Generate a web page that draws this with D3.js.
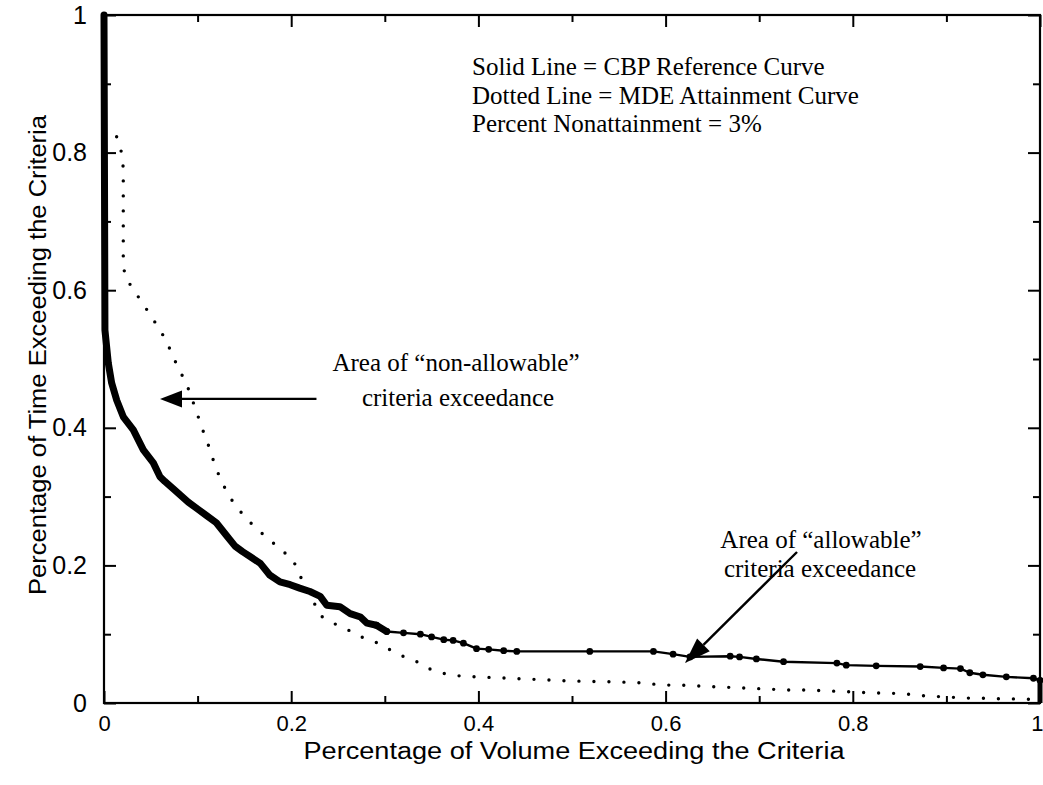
<!DOCTYPE html>
<html><head><meta charset="utf-8">
<script src="https://cdn.jsdelivr.net/npm/d3@7"></script>
<style>body{margin:0;background:#fff}</style>
</head><body>
<svg id="chart" width="1043" height="785"></svg>
<script>
// CBP reference curve (solid)
const refX = [0, 0.001, 0.0046, 0.0082, 0.0136, 0.0206, 0.0313, 0.042, 0.0527, 0.0598, 0.065, 0.075, 0.09, 0.1, 0.11, 0.12, 0.13, 0.14, 0.148, 0.156, 0.167, 0.177, 0.188, 0.199, 0.209, 0.22, 0.231, 0.238, 0.252, 0.263, 0.274, 0.281, 0.291, 0.302, 0.32, 0.338, 0.35, 0.363, 0.373, 0.384, 0.398, 0.411, 0.427, 0.441, 0.519, 0.587, 0.608, 0.626, 0.669, 0.679, 0.697, 0.726, 0.783, 0.793, 0.825, 0.872, 0.897, 0.915, 0.925, 0.939, 0.964, 0.993, 1.0, 1.0];
const refY = [1, 0.542, 0.494, 0.465, 0.44, 0.416, 0.397, 0.368, 0.349, 0.329, 0.322, 0.31, 0.292, 0.282, 0.272, 0.262, 0.245, 0.228, 0.22, 0.213, 0.203, 0.186, 0.176, 0.172, 0.167, 0.162, 0.155, 0.142, 0.14, 0.13, 0.125, 0.116, 0.113, 0.104, 0.102, 0.1, 0.096, 0.092, 0.091, 0.087, 0.079, 0.078, 0.076, 0.075, 0.075, 0.075, 0.071, 0.067, 0.068, 0.067, 0.064, 0.06, 0.058, 0.055, 0.054, 0.053, 0.051, 0.05, 0.044, 0.041, 0.038, 0.036, 0.033, 0];
// MDE attainment curve (dotted)
const mdeX = [0.0135, 0.019, 0.0206, 0.0206, 0.0224, 0.0313, 0.0403, 0.049, 0.058, 0.066, 0.073, 0.08, 0.0876, 0.0937, 0.099, 0.104, 0.11, 0.115, 0.12, 0.127, 0.136, 0.146, 0.155, 0.165, 0.177, 0.19, 0.202, 0.209, 0.224, 0.231, 0.245, 0.261, 0.275, 0.291, 0.306, 0.321, 0.336, 0.35, 0.366, 0.382, 0.398, 0.415, 0.432, 0.465, 0.499, 0.532, 0.566, 0.583, 0.597, 0.615, 0.631, 0.647, 0.663, 0.697, 0.729, 0.747, 0.783, 0.8, 0.836, 0.85, 0.865, 0.879, 0.897, 0.911, 0.925, 0.939, 0.957, 0.971, 1.0];
const mdeY = [0.823, 0.799, 0.777, 0.64, 0.62, 0.601, 0.583, 0.565, 0.546, 0.528, 0.506, 0.485, 0.466, 0.443, 0.423, 0.402, 0.381, 0.36, 0.34, 0.318, 0.296, 0.278, 0.264, 0.251, 0.237, 0.222, 0.208, 0.186, 0.147, 0.127, 0.116, 0.106, 0.096, 0.088, 0.077, 0.067, 0.059, 0.048, 0.042, 0.039, 0.038, 0.037, 0.036, 0.034, 0.032, 0.031, 0.03, 0.028, 0.026, 0.026, 0.025, 0.024, 0.023, 0.021, 0.019, 0.019, 0.017, 0.016, 0.014, 0.014, 0.012, 0.01, 0.009, 0.008, 0.007, 0.007, 0.006, 0.006, 0.005];
const majorTicks = [0, 0.2, 0.4, 0.6, 0.8, 1];
const tickLabels = ["0", "0.2", "0.4", "0.6", "0.8", "1"];
const minorTicks = [0.1, 0.3, 0.5, 0.7, 0.9];
const legendLines = ["Solid Line = CBP Reference Curve", "Dotted Line = MDE Attainment Curve", "Percent Nonattainment = 3%"];
const xTitle = "Percentage of Volume Exceeding the Criteria";
const yTitle = "Percentage of Time Exceeding the Criteria";

const svg = d3.select("#chart");
const L = 104, R = 1040, T = 15, B = 703;
const x = d3.scaleLinear().domain([0, 1]).range([L, R]);
const y = d3.scaleLinear().domain([0, 1]).range([B, T]);

svg.append("rect").attr("width", 1043).attr("height", 785).attr("fill", "#fff");

const sans = "'Liberation Sans', Arial, sans-serif";
const serif = "'Liberation Serif', 'Times New Roman', serif";

function styleAxis(g) {
  g.select(".domain").remove();
  g.selectAll(".tick line").attr("stroke", "#000").attr("stroke-width", 2);
  g.selectAll("text").attr("fill", "#000");
}
const fmt = (d) => tickLabels[majorTicks.indexOf(d)];
// bottom
const bx = svg.append("g").attr("transform", `translate(0,${B})`)
  .call(d3.axisBottom(x).tickValues(majorTicks).tickFormat(fmt).tickSizeInner(-12).tickSizeOuter(0).tickPadding(12))
  .call(styleAxis);
bx.selectAll("text").style("font-family", sans).style("font-size", "22px");
bx.selectAll("text").filter(d => d === 1).attr("text-anchor", "end").attr("dx", "3");
svg.append("g").attr("transform", `translate(0,${B})`)
  .call(d3.axisBottom(x).tickValues(minorTicks).tickFormat("").tickSizeInner(-7).tickSizeOuter(0)).call(styleAxis);
// top
svg.append("g").attr("transform", `translate(0,${T})`)
  .call(d3.axisTop(x).tickValues(majorTicks).tickFormat("").tickSizeInner(-12).tickSizeOuter(0)).call(styleAxis);
svg.append("g").attr("transform", `translate(0,${T})`)
  .call(d3.axisTop(x).tickValues(minorTicks).tickFormat("").tickSizeInner(-7).tickSizeOuter(0)).call(styleAxis);
// left
svg.append("g").attr("transform", `translate(${L},0)`)
  .call(d3.axisLeft(y).tickValues(majorTicks).tickFormat(fmt).tickSizeInner(-12).tickSizeOuter(0).tickPadding(17))
  .call(styleAxis).selectAll("text").style("font-family", sans).style("font-size", "25px");
svg.append("g").attr("transform", `translate(${L},0)`)
  .call(d3.axisLeft(y).tickValues(minorTicks).tickFormat("").tickSizeInner(-7).tickSizeOuter(0)).call(styleAxis);
// right
svg.append("g").attr("transform", `translate(${R},0)`)
  .call(d3.axisRight(y).tickValues(majorTicks).tickFormat("").tickSizeInner(-12).tickSizeOuter(0)).call(styleAxis);
svg.append("g").attr("transform", `translate(${R},0)`)
  .call(d3.axisRight(y).tickValues(minorTicks).tickFormat("").tickSizeInner(-7).tickSizeOuter(0)).call(styleAxis);

// frame
svg.append("rect").attr("x", L).attr("y", T).attr("width", R - L).attr("height", B - T)
  .attr("fill", "none").attr("stroke", "#000").attr("stroke-width", 2.2);

const line = d3.line().x(d => x(d[0])).y(d => y(d[1]));
const refPts = refX.map((v, i) => [v, refY[i]]);
const mdePts = mdeX.map((v, i) => [v, mdeY[i]]);

// dotted MDE curve
svg.append("path").attr("d", line(mdePts)).attr("fill", "none").attr("stroke", "#000")
  .attr("stroke-width", 3.4).attr("stroke-linecap", "round").attr("stroke-dasharray", "0 15");

// solid CBP curve
svg.append("path").attr("d", line(refPts)).attr("fill", "none").attr("stroke", "#000")
  .attr("stroke-width", 2.4).attr("stroke-linejoin", "round");
svg.append("path").attr("d", line(refPts.filter(p => p[0] <= 0.305))).attr("fill", "none").attr("stroke", "#000")
  .attr("stroke-width", 7).attr("stroke-linejoin", "round").attr("stroke-linecap", "round");
svg.append("g").selectAll("circle").data(refPts.filter(p => p[0] > 0.29 && p[1] > 0)).join("circle")
  .attr("cx", d => x(d[0])).attr("cy", d => y(d[1])).attr("r", 3.4).attr("fill", "#000");
// right end drop
svg.append("path").attr("d", line(refPts.slice(-2))).attr("stroke", "#000").attr("stroke-width", 5);

// legend text
svg.append("g").selectAll("text").data(legendLines).join("text")
  .attr("x", 472).attr("y", (d, i) => 75 + i * 28.5)
  .style("font-family", serif).style("font-size", "25px").attr("fill", "#000").text(d => d);

// annotations
function arrow(x1, y1, x2, y2, len, half) {
  const a = Math.atan2(y2 - y1, x2 - x1);
  const bx = x2 - len * Math.cos(a), by = y2 - len * Math.sin(a);
  svg.append("line").attr("x1", x1).attr("y1", y1).attr("x2", bx).attr("y2", by)
    .attr("stroke", "#000").attr("stroke-width", 2.4);
  const px = -Math.sin(a) * half, py = Math.cos(a) * half;
  svg.append("path").attr("d", `M${x2},${y2}L${bx + px},${by + py}L${bx - px},${by - py}Z`).attr("fill", "#000");
}
arrow(x(0.227), y(0.442), x(0.0598), y(0.442), 22, 8.5);
arrow(x(0.7404), y(0.2195), x(0.6207), y(0.058), 26, 9);

const ann = [
  {t: "Area of \u201cnon-allowable\u201d", cx: 456, by: 371},
  {t: "criteria exceedance", cx: 458, by: 406},
  {t: "Area of \u201callowable\u201d", cx: 821, by: 548},
  {t: "criteria exceedance", cx: 820, by: 577}
];
svg.append("g").selectAll("text").data(ann).join("text")
  .attr("x", d => d.cx).attr("y", d => d.by).attr("text-anchor", "middle")
  .style("font-family", serif).style("font-size", "25px").attr("fill", "#000").text(d => d.t);

// axis titles
svg.append("text").attr("x", 574).attr("y", 759).attr("text-anchor", "middle")
  .attr("textLength", 541).attr("lengthAdjust", "spacingAndGlyphs")
  .style("font-family", sans).style("font-size", "23px").attr("fill", "#000").text(xTitle);
svg.append("text").attr("transform", "translate(46,355) rotate(-90)").attr("text-anchor", "middle")
  .attr("textLength", 480).attr("lengthAdjust", "spacingAndGlyphs")
  .style("font-family", sans).style("font-size", "23px").attr("fill", "#000").text(yTitle);
</script>
</body></html>
